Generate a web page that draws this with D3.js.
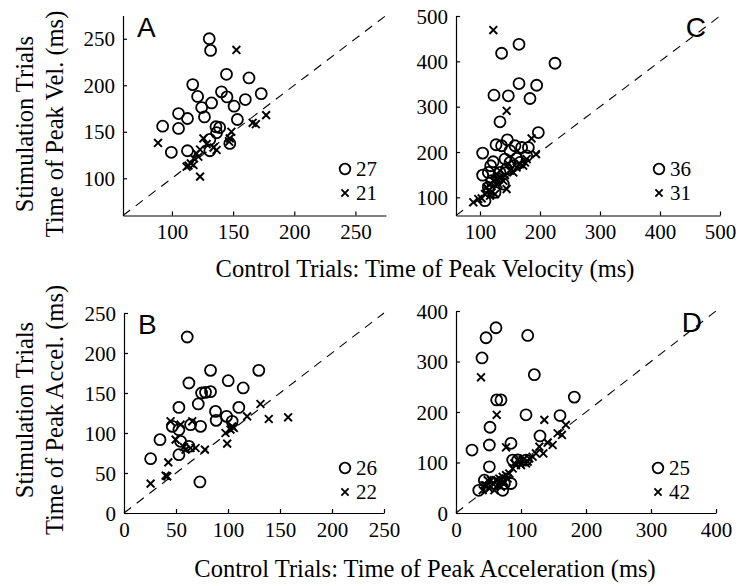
<!DOCTYPE html>
<html><head><meta charset="utf-8">
<script src="https://cdn.jsdelivr.net/npm/d3@7/dist/d3.min.js"></script>
<style>body{margin:0;background:#fff}svg{display:block}</style>
</head><body>
<svg id="c" width="746" height="586"></svg>
<script>
// ---------- data (control time, stimulation time) in ms ----------
const panelLetters = ["A", "C", "B", "D"];
const xTitles = ["Control Trials: Time of Peak Velocity (ms)", "Control Trials: Time of Peak Acceleration (ms)"];
const yTitleTop = "Stimulation Trials";
const yTitles2 = ["Time of Peak Vel. (ms)", "Time of Peak Accel. (ms)"];

const ticksA = [100, 150, 200, 250];
const ticksC = [100, 200, 300, 400, 500];
const ticksB = [0, 50, 100, 150, 200, 250];
const ticksD = [0, 100, 200, 300, 400];
const countsA = [27, 21];
const countsC = [36, 31];
const countsB = [26, 22];
const countsD = [25, 42];

const circlesA = [[130.5,250],[131.6,237.5],[144.6,211.8],[163,207.9],[117,200.7],[140.5,192.9],[173,191],[121,188],[145,187.5],[160,184.6],[132.4,181],[150.8,177.5],[124.3,176],[105.4,169.6],[126.6,166],[112.7,164.3],[153.5,163.2],[92.4,156],[105.4,153.6],[136,155.4],[139,154.6],[136.5,149],[131,141.8],[99.5,127.9],[112.7,129.6],[131,129.6],[147.3,137.5]];
const crossesA = [[152.7,238],[88.6,138],[115.4,116],[117.6,114.3],[113.5,113.6],[123,101.8],[125.7,142.9],[123,131],[120,126.8],[128.4,136.8],[136.5,130.4],[147.3,142.9],[148.6,150],[166,159.6],[168.6,158.2],[177,167.9],[146.8,139.3],[118,121.4],[121.6,123.2],[112,112.5],[134,133]];

const circlesC = [[165,437.6],[136,417.8],[225,395.8],[165,351],[194.4,347.3],[123.3,325.3],[147.2,323.9],[183.3,318],[133.3,266.6],[197.2,243],[145.6,227],[126.7,216],[136,213.8],[158.3,213.8],[169.4,210],[180.6,210],[104.4,197.6],[150,202.8],[122,178.5],[141.7,184.4],[161,186],[150,177],[166.7,177],[104.4,149],[113.9,155],[133.3,155],[119.4,136.7],[130.6,140.4],[138.9,129.4],[113.9,122],[125,111],[108.3,92.7],[144.4,162.4],[155.6,169.7],[117.8,169.7],[177.8,191.7]];
const crossesC = [[122.2,469],[144.4,290.8],[186,230],[193.3,195.4],[175,177],[172,169.7],[155.6,155],[150,158.7],[141.7,149],[133.3,144],[127.8,140.4],[122.2,136.7],[116.7,129.4],[111.1,122],[113.9,114.7],[119.4,111],[125,107.3],[144.4,118.3],[88.9,89],[97.2,96.3],[102.8,97.8],[130.6,129.4],[138.9,136.7],[161,166],[166.7,173.4],[177.8,184.4],[133.3,158.7],[127.8,151.4],[147.2,173.4],[108.3,107.3],[116.7,103.7]];

const circlesB = [[60.8,220],[62.4,162.5],[83.2,178.3],[129.6,178.3],[100.2,165.4],[114.6,156.3],[52.8,132],[71.4,136.3],[74.6,150],[78.4,150.8],[83.2,151.7],[88,127],[88.6,115.8],[110.4,132],[98.6,120.8],[104,114.6],[34.6,91.7],[25.6,67.9],[46.4,108.3],[52.8,104.2],[64,110.4],[73.6,108.3],[54.4,89.6],[52.8,72.9],[62.4,83.3],[73,38.8]];
const crossesB = [[25.6,36.7],[42.6,63.3],[40,46.7],[41.6,45.8],[44.8,114.6],[54.4,110.4],[49.6,91.7],[57.6,82.5],[68.8,81.3],[77.8,79.2],[64,81.3],[65.6,114.6],[97.6,100],[99.2,86.7],[104,108.3],[105.6,106.3],[118.4,120.8],[131.2,136.3],[139.2,117.5],[157.8,119.6],[59.2,79.2],[102.4,104.2]];

const circlesD = [[61.5,366.8],[46.2,347],[110.3,351.6],[40,307],[120.5,274],[62.6,224],[69.2,224],[182,229.5],[107.7,194.4],[160,193],[52.3,169.8],[129.2,152.6],[24.6,124.7],[51.3,134.7],[84.6,138],[51.3,91.5],[87.2,104.8],[43.6,65],[35,45],[59,58.4],[74.4,58.4],[84.6,58.4],[71.8,45],[95,105],[107.7,104.8]];
const crossesD = [[38.5,268.7],[62.6,194.4],[135.9,184.4],[77,130],[134.4,118],[148.7,134.7],[156.4,157.9],[163,154.6],[169,174.5],[141,139.3],[46.2,55],[51.3,48.4],[56.4,58.4],[61.5,65],[66.7,68.3],[71.8,71.6],[77,75],[53.8,65],[48.7,65],[59,45],[69.2,51.7],[74.4,61.7],[82,78.3],[87.2,88.2],[92.3,94.9],[97.4,101.5],[102.6,104.8],[105,108],[100,94.9],[107.7,98.2],[112.8,108],[117.9,111.4],[123,118],[94.9,104.8],[89.7,98.2],[41,45],[64,55],[71.8,61.7],[43.6,55],[79.5,68.3],[110.3,101.5],[128.2,131.3]];

const domA = [60, 275], domC = [60, 500], domB = [0, 250], domD = [0, 400];

// ---------- layout ----------
const panels = [
  {letter: panelLetters[0], circ: circlesA, cros: crossesA, dom: domA, ticks: ticksA, counts: countsA,
   px: [123, 386], py: [215.5, 15.5], lx: 345, ly: [169, 193]},
  {letter: panelLetters[1], circ: circlesC, cros: crossesC, dom: domC, ticks: ticksC, counts: countsC,
   px: [456, 720], py: [215.5, 16], lx: 659, ly: [169, 193]},
  {letter: panelLetters[2], circ: circlesB, cros: crossesB, dom: domB, ticks: ticksB, counts: countsB,
   px: [124, 384], py: [513, 313], lx: 345, ly: [468, 492]},
  {letter: panelLetters[3], circ: circlesD, cros: crossesD, dom: domD, ticks: ticksD, counts: countsD,
   px: [456, 716], py: [513, 311], lx: 658, ly: [468, 492]}
];

const svg = d3.select("#c");
const serif = "'Liberation Serif', 'Times New Roman', serif";
const sans = "'Liberation Sans', Arial, sans-serif";
const tickSize = "21px";

function crossPath(cx, cy, h) {
  return `M${cx-h},${cy-h}L${cx+h},${cy+h}M${cx-h},${cy+h}L${cx+h},${cy-h}`;
}

panels.forEach(p => {
  const x = d3.scaleLinear().domain(p.dom).range(p.px);
  const y = d3.scaleLinear().domain(p.dom).range(p.py);
  const g = svg.append("g");

  // diagonal y = x
  g.append("line")
    .attr("x1", x(p.dom[0])).attr("y1", y(p.dom[0]))
    .attr("x2", x(p.dom[1])).attr("y2", y(p.dom[1]))
    .attr("stroke", "#000").attr("stroke-width", 1.1)
    .attr("stroke-dasharray", "9,7");

  // axes (inward ticks)
  const xAxis = d3.axisBottom(x).tickValues(p.ticks).tickSizeInner(-4).tickSizeOuter(0).tickPadding(9);
  const yAxis = d3.axisLeft(y).tickValues(p.ticks).tickSizeInner(-4).tickSizeOuter(0).tickPadding(8);
  const gx = g.append("g").attr("transform", `translate(0,${p.py[0]})`).call(xAxis);
  const gy = g.append("g").attr("transform", `translate(${p.px[0]},0)`).call(yAxis);
  [gx, gy].forEach(a => {
    a.attr("font-family", null).attr("font-size", null);
    a.select(".domain").attr("stroke", "#000").attr("stroke-width", 1.2);
    a.selectAll(".tick line").attr("stroke", "#000").attr("stroke-width", 1.2);
    a.selectAll(".tick text").attr("fill", "#000").style("font-family", serif).style("font-size", tickSize);
  });
  gx.selectAll(".tick text").attr("dy", "0.7em");
  gy.selectAll(".tick text").attr("dy", "0.34em");

  // circles
  g.append("g").selectAll("circle").data(p.circ).join("circle")
    .attr("cx", d => x(d[0])).attr("cy", d => y(d[1])).attr("r", 5.5)
    .attr("fill", "none").attr("stroke", "#000").attr("stroke-width", 1.8);
  // crosses
  g.append("g").selectAll("path").data(p.cros).join("path")
    .attr("d", d => crossPath(x(d[0]), y(d[1]), 3.9))
    .attr("fill", "none").attr("stroke", "#000").attr("stroke-width", 1.9);

  // legend
  g.append("circle").attr("cx", p.lx).attr("cy", p.ly[0]).attr("r", 5.3)
    .attr("fill", "none").attr("stroke", "#000").attr("stroke-width", 1.8);
  g.append("path").attr("d", crossPath(p.lx, p.ly[1], 3.6))
    .attr("fill", "none").attr("stroke", "#000").attr("stroke-width", 1.9);
  p.counts.forEach((c, i) => {
    g.append("text").attr("x", p.lx + 11).attr("y", p.ly[i]).attr("dy", "0.35em")
      .style("font-family", serif).style("font-size", "21px").text(c);
  });

  // panel letter
  const isRight = p.px[0] > 300;
  g.append("text")
    .attr("x", isRight ? p.px[1] - 14 : p.px[0] + 14)
    .attr("y", p.py[1] + 21)
    .attr("text-anchor", isRight ? "end" : "start")
    .style("font-family", sans).style("font-size", "28px").text(p.letter);
});

// axis titles
const titleSize = "24.5px";
[[277, xTitles[0]], [577, xTitles[1]]].forEach(([yy, t]) => {
  svg.append("text").attr("x", 425).attr("y", yy).attr("text-anchor", "middle")
    .style("font-family", serif).style("font-size", titleSize).text(t);
});
[[124, yTitles2[0]], [410, yTitles2[1]]].forEach(([cy, t]) => {
  svg.append("text").attr("transform", `translate(33,${cy}) rotate(-90)`).attr("text-anchor", "middle")
    .style("font-family", serif).style("font-size", titleSize).text(yTitleTop);
  svg.append("text").attr("transform", `translate(63,${cy}) rotate(-90)`).attr("text-anchor", "middle")
    .style("font-family", serif).style("font-size", titleSize).text(t);
});
</script>
</body></html>
